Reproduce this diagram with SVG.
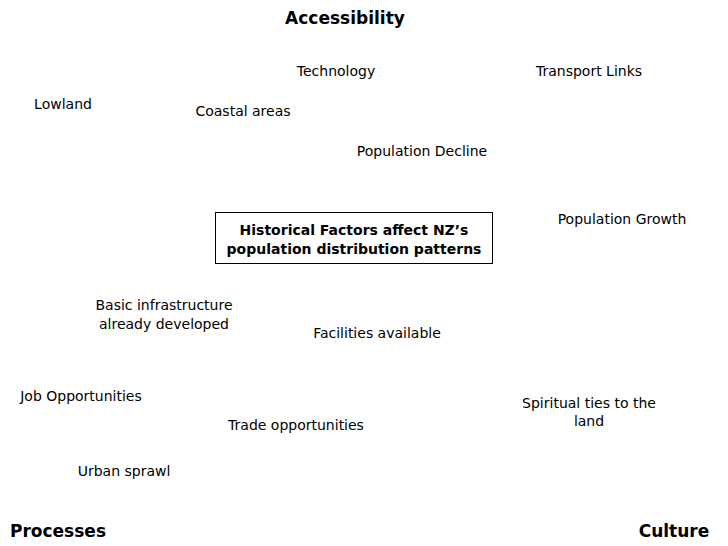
<svg xmlns="http://www.w3.org/2000/svg" width="728" height="546" viewBox="0 0 728 546">
<style>
text{font-family:"DejaVu Sans","Liberation Sans",sans-serif;fill:#000;text-anchor:middle}
.n{font-size:14px}
.h{font-size:17px;font-weight:bold}
.c{font-size:14px;font-weight:bold}
</style>
<rect width="728" height="546" fill="#fff"/>
<g id="accessibility"><text class="h" x="345" y="24">Accessibility</text></g>
<g id="processes"><text class="h" x="58" y="537">Processes</text></g>
<g id="culture"><text class="h" x="674" y="537">Culture</text></g>
<g id="center"><rect x="215.5" y="212.5" width="277" height="51" fill="none" stroke="#000" stroke-width="1"/>
<text class="c" x="354" y="235">Historical Factors affect NZ’s</text>
<text class="c" x="354" y="254">population distribution patterns</text></g>
<g id="technology"><text class="n" x="336" y="76">Technology</text></g>
<g id="transport"><text class="n" x="589" y="76">Transport Links</text></g>
<g id="lowland"><text class="n" x="63" y="109">Lowland</text></g>
<g id="coastal"><text class="n" x="243" y="116">Coastal areas</text></g>
<g id="popdecline"><text class="n" x="422" y="156">Population Decline</text></g>
<g id="popgrowth"><text class="n" x="622" y="224">Population Growth</text></g>
<g id="infrastructure"><text class="n" x="164" y="310">Basic infrastructure</text><text class="n" x="164" y="329">already developed</text></g>
<g id="facilities"><text class="n" x="377" y="338">Facilities available</text></g>
<g id="jobs"><text class="n" x="81" y="401">Job Opportunities</text></g>
<g id="spiritual"><text class="n" x="589" y="408">Spiritual ties to the</text><text class="n" x="589" y="426">land</text></g>
<g id="trade"><text class="n" x="296" y="430">Trade opportunities</text></g>
<g id="sprawl"><text class="n" x="124" y="476">Urban sprawl</text></g>
<g id="connectors"></g>
</svg>
